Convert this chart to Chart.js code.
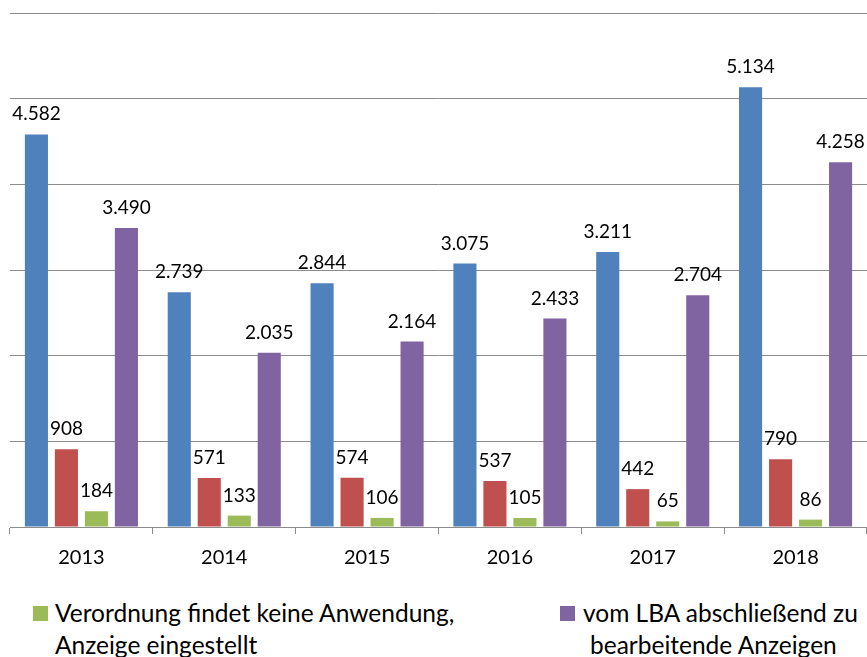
<!DOCTYPE html>
<html>
<head>
<meta charset="utf-8">
<script src="https://cdn.jsdelivr.net/npm/chart.js@4.4.1/dist/chart.umd.min.js"></script>
<style>
  html, body { margin: 0; padding: 0; background: #fff; }
  #wrap { position: relative; width: 867px; height: 657px; overflow: hidden; font-family: Lato, "Open Sans", sans-serif; }
  #chart { position: absolute; left: 0; top: 0; }
  .leg { position: absolute; font-size: 24.5px; line-height: 32px; color: #000; white-space: nowrap; }
  .leg .box { position: absolute; width: 15px; height: 15px; }
</style>
</head>
<body>
<div id="wrap">
  <canvas id="chart" width="867" height="582"></canvas>
  <div class="leg" id="legGreen" style="left:55px; top:597px;">
    <span class="box" style="left:-22px; top:9px; background:#9BBB59;"></span>
    Verordnung findet keine Anwendung,<br>Anzeige eingestellt
  </div>
  <div class="leg" id="legPurple" style="left:583px; top:597px;">
    <span class="box" style="left:-23px; top:9px; background:#8064A2;"></span>
    vom LBA abschließend zu<br><span style="padding-left:7px">bearbeitende Anzeigen</span>
  </div>
</div>
<script>
// Jahre und Werte je Reihe
const years = ['2013', '2014', '2015', '2016', '2017', '2018'];
const seriesBlue = [4582, 2739, 2844, 3075, 3211, 5134];
const seriesRed = [908, 571, 574, 537, 442, 790];
const seriesGreen = [184, 133, 106, 105, 65, 86];
const seriesPurple = [3490, 2035, 2164, 2433, 2704, 4258];

const greenLabel = 'Verordnung findet keine Anwendung, Anzeige eingestellt';
const purpleLabel = 'vom LBA abschließend zu bearbeitende Anzeigen';

// 4582 -> "4.582"
function fmt(v) {
    return String(v).replace(/\B(?=(\d{3})+(?!\d))/g, '.');
}

// Werte über den Balken
const valueLabels = {
    id: 'valueLabels',
    afterDatasetsDraw(chart) {
        const ctx = chart.ctx;
        ctx.save();
        ctx.font = '19px Lato, "Open Sans", sans-serif';
        ctx.fillStyle = '#000';
        ctx.textAlign = 'center';
        ctx.textBaseline = 'alphabetic';
        chart.data.datasets.forEach((ds, i) => {
            chart.getDatasetMeta(i).data.forEach((bar, j) => {
                ctx.fillText(fmt(ds.data[j]), bar.x, bar.y - 14);
            });
        });
        ctx.restore();
    }
};

const ctx = document.getElementById('chart').getContext('2d');
new Chart(ctx, {
    type: 'bar',
    data: {
        labels: years,
        datasets: [
            { label: 'Reihe 1', data: seriesBlue, backgroundColor: '#4F81BD' },
            { label: 'Reihe 2', data: seriesRed, backgroundColor: '#C0504D' },
            { label: greenLabel, data: seriesGreen, backgroundColor: '#9BBB59' },
            { label: purpleLabel, data: seriesPurple, backgroundColor: '#8064A2' }
        ]
    },
    options: {
        responsive: false,
        animation: false,
        datasets: {
            bar: { categoryPercentage: 0.84, barPercentage: 0.77 }
        },
        layout: { padding: { left: 10, right: 0, top: 13, bottom: 0 } },
        scales: {
            y: {
                min: 0,
                max: 6000,
                ticks: { display: false, stepSize: 1000 },
                grid: { color: '#8c8c8c', drawTicks: false },
                border: { display: false }
            },
            x: {
                ticks: { color: '#000', font: { family: 'Lato, "Open Sans", sans-serif', size: 20 }, padding: 12 },
                grid: { drawOnChartArea: false, drawTicks: true, tickLength: 7, color: '#8c8c8c' },
                border: { display: true, color: '#8c8c8c' }
            }
        },
        plugins: {
            legend: { display: false },
            tooltip: { enabled: false }
        }
    },
    plugins: [valueLabels]
});
</script>
</body>
</html>
